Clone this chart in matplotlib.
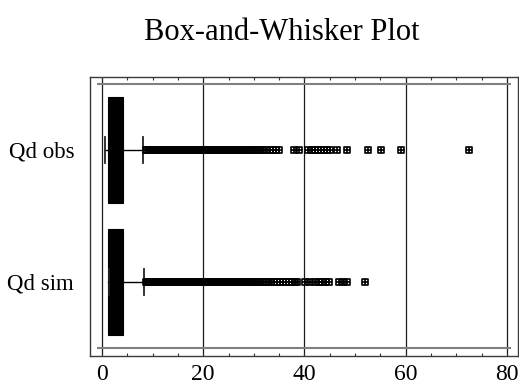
import matplotlib
matplotlib.use("Agg")
import matplotlib.pyplot as plt
from matplotlib.path import Path
from matplotlib.ticker import MultipleLocator

# ---- data ----
categories = ["Qd obs", "Qd sim"]
positions = [2, 1]
q1 = [1.25, 1.25]
median = [2.3, 2.3]
q3 = [4.2, 4.2]
whisker_low = [0.6, 1.3]
whisker_high = [8.2, 8.3]
fliers_obs = [8.6, 8.9, 9.2, 9.5, 9.8, 10.1, 10.4, 10.7, 11.0, 11.3, 11.6, 11.9,
              12.2, 12.5, 12.8, 13.1, 13.4, 13.7, 14.0, 14.3, 14.6, 14.9, 15.2,
              15.5, 15.8, 16.1, 16.4, 16.7, 17.0, 17.3, 17.6, 17.9, 18.2, 18.5,
              18.8, 19.1, 19.4, 19.7, 20.0, 20.3, 20.6, 20.9, 21.2, 21.5, 21.8,
              22.1, 22.4, 22.7, 23.0, 23.3, 23.6, 23.9, 24.2, 24.5, 24.8, 25.1,
              25.4, 25.7, 26.0, 26.3, 26.6, 26.9, 27.2, 27.5, 27.9, 28.3, 28.7,
              29.1, 29.5, 29.9, 30.4, 30.9, 31.4, 31.9, 32.5, 33.1, 33.7, 34.3,
              35.0, 37.9, 39.0, 40.8, 41.4, 42.0, 42.6, 43.2, 43.8, 44.4, 45.0,
              46.4, 48.4, 52.6, 55.1, 59.1, 72.6]
fliers_sim = [8.6, 8.9, 9.2, 9.5, 9.8, 10.1, 10.4, 10.7, 11.0, 11.3, 11.6, 11.9,
              12.2, 12.5, 12.8, 13.1, 13.4, 13.7, 14.0, 14.3, 14.6, 14.9, 15.2,
              15.5, 15.8, 16.1, 16.4, 16.7, 17.0, 17.3, 17.6, 17.9, 18.2, 18.5,
              18.8, 19.1, 19.4, 19.7, 20.0, 20.3, 20.6, 20.9, 21.2, 21.5, 21.8,
              22.1, 22.4, 22.7, 23.0, 23.3, 23.6, 23.9, 24.2, 24.5, 24.8, 25.1,
              25.4, 25.7, 26.0, 26.3, 26.6, 26.9, 27.2, 27.5, 27.8, 28.1, 28.4,
              28.8, 29.2, 29.6, 30.0, 30.4, 30.9, 31.4, 31.9, 32.4, 32.9, 33.4,
              33.9, 34.5, 35.1, 35.7, 36.3, 36.9, 37.5, 38.1, 38.6, 40.1, 41.1,
              42.1, 42.8, 43.5, 44.2, 44.8, 46.8, 47.6, 48.4, 52.0]
fliers = [fliers_obs, fliers_sim]
x_ticks = [0, 20, 40, 60, 80]
x_ticklabels = ["0", "20", "40", "60", "80"]
title = "Box-and-Whisker Plot"

plt.rcParams['font.family'] = ['Liberation Serif', 'DejaVu Serif']

fig = plt.figure(figsize=(5.19, 3.88), dpi=100)
ax = fig.add_axes([89.5/519, 1-356/388, (518-89.5)/519, (356-77)/388])

# marker: square with a cross
verts = [(-1, -1), (1, -1), (1, 1), (-1, 1), (-1, -1),
         (0, -1), (0, 1), (-1, 0), (1, 0)]
codes = [Path.MOVETO, Path.LINETO, Path.LINETO, Path.LINETO, Path.CLOSEPOLY,
         Path.MOVETO, Path.LINETO, Path.MOVETO, Path.LINETO]
sqplus = Path(verts, codes)

stats = []
for i in range(len(categories)):
    stats.append(dict(label=categories[i], q1=q1[i], med=median[i], q3=q3[i],
                      whislo=whisker_low[i], whishi=whisker_high[i],
                      fliers=fliers[i]))

ax.bxp(stats, positions=positions, vert=False, widths=0.81, patch_artist=True,
       capwidths=0.2,
       boxprops=dict(facecolor='black', edgecolor='black', linewidth=0.8),
       medianprops=dict(color='black', linewidth=0.8),
       whiskerprops=dict(color='black', linewidth=1.0),
       capprops=dict(color='#222222', linewidth=1.3),
       flierprops=dict(marker=sqplus, markersize=4.8, markerfacecolor='none',
                       markeredgecolor='black', markeredgewidth=1.2, linestyle='none'),
       zorder=3)

ax.set_xlim(-2.47, 82.2)
ax.set_ylim(0.439, 2.553)

# inner horizontal frame lines
ax.hlines([0.5, 2.5], -0.93, 80.8, colors='#808080', linewidth=1.5, zorder=2)

ax.set_xticks(x_ticks)
ax.set_xticklabels(x_ticklabels)
ax.xaxis.set_minor_locator(MultipleLocator(5))
ax.xaxis.grid(True, which='major', color='#1a1a1a', linewidth=0.9, zorder=1)
ax.set_axisbelow(True)
ax.tick_params(axis='x', which='both', direction='in', top=True, bottom=True,
               length=2.5, width=0.8, color='#333333', labelsize=17, pad=6)
ax.set_yticks(positions)
ax.set_yticklabels(categories)
ax.tick_params(axis='y', length=0, labelsize=16.5, pad=11)

for s in ax.spines.values():
    s.set_color('#3a3a3a')
    s.set_linewidth(1.0)

fig.text(282/519, 1-33/388, title, ha='center', va='center', fontsize=22)

fig.savefig("out.png", dpi=100)
